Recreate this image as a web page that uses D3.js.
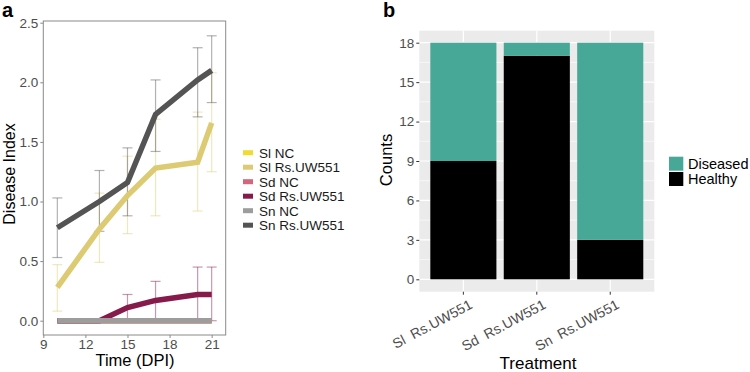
<!DOCTYPE html>
<html>
<head>
<meta charset="utf-8">
<script src="https://cdn.jsdelivr.net/npm/d3@7"></script>
<style>
  body { margin: 0; background: #fff; }
  svg { font-family: "Liberation Sans", Arial, sans-serif; }
</style>
</head>
<body>
<div id="mydraw"></div>
<script>
// ---------------
// data, panel a: disease index over time
var days = [10, 13, 15, 17, 20, 21];
var seriesNames = ["Sl NC", "Sl Rs.UW551", "Sd NC", "Sd Rs.UW551", "Sn NC", "Sn Rs.UW551"];
var seriesColors = ["#f1dc2e", "#dccb72", "#d2677c", "#861a4b", "#9d9d9d", "#545454"];
var slNC = [0, 0, 0, 0, 0, 0];
var slRs = [0.28, 0.77, 1.05, 1.28, 1.33, 1.66];
var sdNC = [0, 0, 0, 0, 0, 0];
var sdRs = [0, 0, 0.11, 0.17, 0.22, 0.22];
var snNC = [0, 0, 0, 0, 0, 0];
var snRs = [0.78, 1.0, 1.16, 1.73, 2.02, 2.10];
// error bars (lower, upper)
var slRsLo = [0.08, 0.49, 0.73, 0.88, 0.92, 1.25];
var slRsHi = [0.47, 1.07, 1.38, 1.69, 1.75, 2.08];
var sdRsLo = [0, 0, 0, 0, 0, 0];
var sdRsHi = [0, 0, 0.22, 0.33, 0.45, 0.45];
var snRsLo = [0.53, 0.75, 0.88, 1.42, 1.71, 1.83];
var snRsHi = [1.03, 1.26, 1.45, 2.02, 2.29, 2.39];
var xTicksA = [9, 12, 15, 18, 21];
var yTicksA = [0, 0.5, 1.0, 1.5, 2.0, 2.5];

// ---------------
// data, panel b: counts per treatment
var treatments = ["Sl  Rs.UW551", "Sd  Rs.UW551", "Sn  Rs.UW551"];
var healthy = [9, 17, 3];
var diseased = [9, 1, 15];
var yTicksB = [0, 3, 6, 9, 12, 15, 18];

var svg = d3.select("#mydraw").append("svg")
    .attr("width", 750)
    .attr("height", 372);

///////////////////////////////////
// panel a

var x = d3.scaleLinear().domain([9, 22]).range([43.3, 225.7]);
var y = d3.scaleLinear().domain([0, 2.5]).range([320.7, 22.7]);

var ga = svg.append("g");

ga.append("rect")
    .attr("x", 43.3).attr("y", 21)
    .attr("width", 182.4).attr("height", 314)
    .attr("fill", "none")
    .attr("stroke", "#8a8a8a")
    .attr("stroke-width", 1);

var axA = ga.append("g")
    .attr("transform", "translate(43.3,0)")
    .call(d3.axisLeft(y).tickValues(yTicksA).tickFormat(d3.format(".1f")).tickSize(3).tickPadding(2));
var axB = ga.append("g")
    .attr("transform", "translate(0,335)")
    .call(d3.axisBottom(x).tickValues(xTicksA).tickSize(3).tickPadding(1));
[axA, axB].forEach(function(ax) {
    ax.select(".domain").remove();
    ax.selectAll(".tick line").attr("stroke", "#8a8a8a");
    ax.selectAll(".tick text").attr("fill", "#4d4d4d").style("font-size", "13.5px");
});

var series = [slNC, slRs, sdNC, sdRs, snNC, snRs];
var bars = [null, [slRsLo, slRsHi], null, [sdRsLo, sdRsHi], null, [snRsLo, snRsHi]];

// error bars first, under the lines
bars.forEach(function(b, s) {
    if (!b) return;
    var eb = ga.append("g")
        .attr("stroke", seriesColors[s])
        .attr("stroke-opacity", 0.45)
        .attr("stroke-width", 1.2)
        .attr("fill", "none");
    days.forEach(function(d, i) {
        if (b[1][i] === b[0][i]) return;
        var cx = x(d);
        eb.append("line").attr("x1", cx).attr("x2", cx).attr("y1", y(b[0][i])).attr("y2", y(b[1][i]));
        eb.append("line").attr("x1", cx - 5).attr("x2", cx + 5).attr("y1", y(b[0][i])).attr("y2", y(b[0][i]));
        eb.append("line").attr("x1", cx - 5).attr("x2", cx + 5).attr("y1", y(b[1][i])).attr("y2", y(b[1][i]));
    });
});

var line = d3.line()
    .x(function(d, i) { return x(days[i]); })
    .y(function(d) { return y(d); });

series.forEach(function(vals, s) {
    ga.append("path")
        .attr("d", line(vals))
        .attr("fill", "none")
        .attr("stroke", seriesColors[s])
        .attr("stroke-width", 5.5)
        .attr("stroke-linejoin", "miter");
});

ga.append("text")
    .attr("transform", "translate(15,174) rotate(-90)")
    .attr("text-anchor", "middle")
    .style("font-size", "16px")
    .text("Disease Index");
ga.append("text")
    .attr("x", 135).attr("y", 366)
    .attr("text-anchor", "middle")
    .style("font-size", "16.5px")
    .text("Time (DPI)");

// legend a
var legA = ga.append("g");
seriesNames.forEach(function(n, i) {
    var yy = 152.7 + i * 14.5;
    legA.append("rect")
        .attr("x", 243).attr("y", yy - 2.5)
        .attr("width", 10).attr("height", 5)
        .attr("fill", seriesColors[i]);
    legA.append("text")
        .attr("x", 259).attr("y", yy + 5)
        .style("font-size", "13.5px")
        .attr("fill", "#1a1a1a")
        .text(n);
});

ga.append("text")
    .attr("x", 2).attr("y", 17)
    .style("font-size", "20px").style("font-weight", "bold")
    .text("a");

///////////////////////////////////
// panel b

var xb = d3.scaleBand().domain(treatments).range([419.3, 654.3]).paddingInner(0.1).paddingOuter(0.15);
var yb = d3.scaleLinear().domain([0, 18]).range([279.3, 42.7]);

var gb = svg.append("g");

gb.append("rect")
    .attr("x", 419.3).attr("y", 30.7)
    .attr("width", 235).attr("height", 261)
    .attr("fill", "#ebebeb");

// minor grid
d3.range(1.5, 18, 3).forEach(function(v) {
    gb.append("line")
        .attr("x1", 419.3).attr("x2", 654.3)
        .attr("y1", yb(v)).attr("y2", yb(v))
        .attr("stroke", "#fff").attr("stroke-width", 0.6);
});
yTicksB.forEach(function(v) {
    gb.append("line")
        .attr("x1", 419.3).attr("x2", 654.3)
        .attr("y1", yb(v)).attr("y2", yb(v))
        .attr("stroke", "#fff").attr("stroke-width", 1.2);
});
treatments.forEach(function(t) {
    var cx = xb(t) + xb.bandwidth() / 2;
    gb.append("line")
        .attr("x1", cx).attr("x2", cx)
        .attr("y1", 30.7).attr("y2", 291.7)
        .attr("stroke", "#fff").attr("stroke-width", 1.2);
});

gb.selectAll("rect.healthy")
    .data(healthy)
    .enter().append("rect")
    .attr("class", "healthy")
    .attr("x", function(d, i) { return xb(treatments[i]); })
    .attr("width", xb.bandwidth())
    .attr("y", function(d) { return yb(d); })
    .attr("height", function(d) { return yb(0) - yb(d); })
    .attr("fill", "#000");

gb.selectAll("rect.diseased")
    .data(diseased)
    .enter().append("rect")
    .attr("class", "diseased")
    .attr("x", function(d, i) { return xb(treatments[i]); })
    .attr("width", xb.bandwidth())
    .attr("y", function(d, i) { return yb(healthy[i] + d); })
    .attr("height", function(d) { return yb(0) - yb(d); })
    .attr("fill", "#47a898");

var ayb = gb.append("g")
    .attr("transform", "translate(419.3,0)")
    .call(d3.axisLeft(yb).tickValues(yTicksB).tickSize(3).tickPadding(2));
var axb = gb.append("g")
    .attr("transform", "translate(0,291.7)")
    .call(d3.axisBottom(xb).tickSize(3).tickPadding(2));
[ayb, axb].forEach(function(ax) {
    ax.select(".domain").remove();
    ax.selectAll(".tick line").attr("stroke", "#333");
    ax.selectAll(".tick text").attr("fill", "#4d4d4d").style("font-size", "13.5px");
});
axb.selectAll(".tick text")
    .style("white-space", "pre")
    .style("font-size", "14px")
    .attr("text-anchor", "end")
    .attr("x", 0).attr("y", 0).attr("dy", 0)
    .attr("transform", "translate(10,16) rotate(-28)");

gb.append("text")
    .attr("transform", "translate(392,160) rotate(-90)")
    .attr("text-anchor", "middle")
    .style("font-size", "16.5px")
    .text("Counts");
gb.append("text")
    .attr("x", 538).attr("y", 369)
    .attr("text-anchor", "middle")
    .style("font-size", "17px")
    .text("Treatment");

// legend b
var legB = [["Diseased", "#47a898"], ["Healthy", "#000"]];
legB.forEach(function(l, i) {
    var yy = 156.7 + i * 15.3;
    gb.append("rect")
        .attr("x", 669).attr("y", yy)
        .attr("width", 14.3).attr("height", 14)
        .attr("fill", l[1]);
    gb.append("text")
        .attr("x", 688).attr("y", yy + 12)
        .style("font-size", "14.5px")
        .text(l[0]);
});

gb.append("text")
    .attr("x", 383).attr("y", 17)
    .style("font-size", "20px").style("font-weight", "bold")
    .text("b");
</script>
</body>
</html>
